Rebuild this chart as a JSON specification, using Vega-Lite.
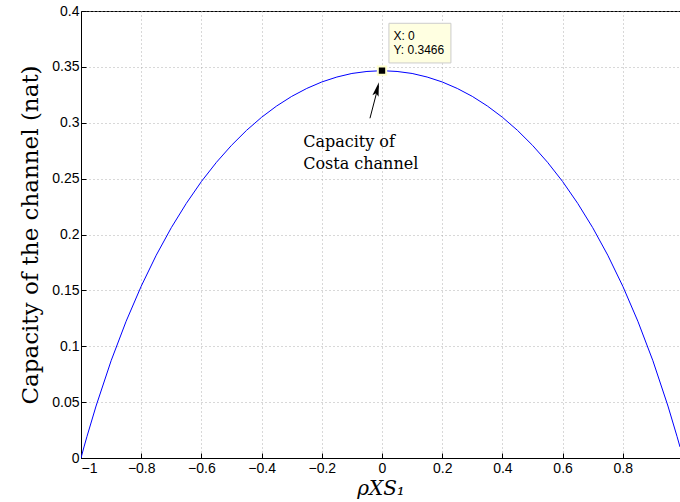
{
  "$schema": "https://vega.github.io/schema/vega-lite/v6.json",
  "width": 599,
  "height": 447,
  "autosize": {"type": "none"},
  "padding": {"left": 81, "top": 11, "right": 0, "bottom": 44},
  "background": "white",
  "config": {
    "view": {"stroke": "black", "strokeWidth": 1},
    "axis": {
      "domainColor": "black",
      "tickColor": "black",
      "tickSize": -5,
      "labelFont": "Liberation Sans",
      "labelFontSize": 14,
      "labelColor": "black",
      "gridColor": "#aaaaaa",
      "gridDash": [1, 3],
      "gridOpacity": 0.9,
      "titleColor": "black"
    }
  },
  "datasets": {
    "curve": [
      {"rho": -1, "cap": 0},
      {"rho": -0.99, "cap": 0.0099},
      {"rho": -0.98, "cap": 0.0194},
      {"rho": -0.95, "cap": 0.0465},
      {"rho": -0.9, "cap": 0.087},
      {"rho": -0.85, "cap": 0.1224},
      {"rho": -0.8, "cap": 0.1537},
      {"rho": -0.75, "cap": 0.1815},
      {"rho": -0.7, "cap": 0.2061},
      {"rho": -0.65, "cap": 0.2279},
      {"rho": -0.6, "cap": 0.2474},
      {"rho": -0.55, "cap": 0.2646},
      {"rho": -0.5, "cap": 0.2798},
      {"rho": -0.45, "cap": 0.2932},
      {"rho": -0.4, "cap": 0.3049},
      {"rho": -0.35, "cap": 0.315},
      {"rho": -0.3, "cap": 0.3236},
      {"rho": -0.25, "cap": 0.3307},
      {"rho": -0.2, "cap": 0.3365},
      {"rho": -0.15, "cap": 0.3409},
      {"rho": -0.1, "cap": 0.3441},
      {"rho": -0.05, "cap": 0.3459},
      {"rho": 0, "cap": 0.3466},
      {"rho": 0.05, "cap": 0.3459},
      {"rho": 0.1, "cap": 0.3441},
      {"rho": 0.15, "cap": 0.3409},
      {"rho": 0.2, "cap": 0.3365},
      {"rho": 0.25, "cap": 0.3307},
      {"rho": 0.3, "cap": 0.3236},
      {"rho": 0.35, "cap": 0.315},
      {"rho": 0.4, "cap": 0.3049},
      {"rho": 0.45, "cap": 0.2932},
      {"rho": 0.5, "cap": 0.2798},
      {"rho": 0.55, "cap": 0.2646},
      {"rho": 0.6, "cap": 0.2474},
      {"rho": 0.65, "cap": 0.2279},
      {"rho": 0.7, "cap": 0.2061},
      {"rho": 0.75, "cap": 0.1815},
      {"rho": 0.8, "cap": 0.1537},
      {"rho": 0.85, "cap": 0.1224},
      {"rho": 0.9, "cap": 0.087},
      {"rho": 0.95, "cap": 0.0465},
      {"rho": 0.98, "cap": 0.0194},
      {"rho": 0.99, "cap": 0.0099}
    ],
    "tipbox": [{"x1": 0.023, "x2": 0.229, "y1": 0.3535, "y2": 0.389}],
    "tiptext": [
      {"x": 0.038, "y": 0.378, "t": "X: 0"},
      {"x": 0.038, "y": 0.365, "t": "Y: 0.3466"}
    ],
    "peak": [{"x": 0, "y": 0.3466}],
    "arrow": [{"x1": -0.04, "y1": 0.304, "x2": -0.012, "y2": 0.333}],
    "head": [{"x": -0.016, "y": 0.33}],
    "note": [
      {"x": -0.262, "y": 0.283, "t": "Capacity of"},
      {"x": -0.262, "y": 0.263, "t": "Costa channel"}
    ]
  },
  "layer": [
    {
      "data": {"name": "curve"},
      "mark": {"type": "line", "color": "#0000ff", "strokeWidth": 1, "clip": true},
      "encoding": {
        "x": {
          "field": "rho", "type": "quantitative",
          "scale": {"domain": [-1, 0.99], "nice": false, "zero": false},
          "axis": {
            "values": [-1, -0.8, -0.6, -0.4, -0.2, 0, 0.2, 0.4, 0.6, 0.8],
            "format": "~g",
            "title": "ρXS₁",
            "titleFont": "DejaVu Serif",
            "titleFontStyle": "italic",
            "titleFontWeight": "normal",
            "titleFontSize": 20,
            "titlePadding": 3,
            "labelPadding": 8
          }
        },
        "y": {
          "field": "cap", "type": "quantitative",
          "scale": {"domain": [0, 0.4], "nice": false},
          "axis": {
            "values": [0, 0.05, 0.1, 0.15, 0.2, 0.25, 0.3, 0.35, 0.4],
            "format": "~g",
            "title": "Capacity of the channel (nat)",
            "titleFont": "DejaVu Serif",
            "titleFontWeight": "normal",
            "titleFontSize": 23,
            "titlePadding": 9,
            "labelPadding": 7
          }
        }
      }
    },
    {
      "data": {"name": "tipbox"},
      "mark": {"type": "rect", "fill": "#ffffe1", "stroke": "#cccccc", "strokeWidth": 1},
      "encoding": {
        "x": {"field": "x1", "type": "quantitative"},
        "x2": {"field": "x2"},
        "y": {"field": "y1", "type": "quantitative"},
        "y2": {"field": "y2"}
      }
    },
    {
      "data": {"name": "tiptext"},
      "mark": {"type": "text", "align": "left", "baseline": "middle", "font": "Liberation Sans", "fontSize": 12, "color": "black"},
      "encoding": {
        "x": {"field": "x", "type": "quantitative"},
        "y": {"field": "y", "type": "quantitative"},
        "text": {"field": "t"}
      }
    },
    {
      "data": {"name": "peak"},
      "mark": {"type": "square", "filled": true, "color": "black", "size": 70, "stroke": "#ffffcc", "strokeWidth": 2, "opacity": 1},
      "encoding": {
        "x": {"field": "x", "type": "quantitative"},
        "y": {"field": "y", "type": "quantitative"}
      }
    },
    {
      "data": {"name": "arrow"},
      "mark": {"type": "rule", "color": "black", "strokeWidth": 1},
      "encoding": {
        "x": {"field": "x1", "type": "quantitative"},
        "y": {"field": "y1", "type": "quantitative"},
        "x2": {"field": "x2"},
        "y2": {"field": "y2"}
      }
    },
    {
      "data": {"name": "head"},
      "mark": {"type": "point", "shape": "M0,-1L0.45,1L0,0.6L-0.45,1Z", "filled": true, "color": "black", "size": 200, "angle": 14, "opacity": 1},
      "encoding": {
        "x": {"field": "x", "type": "quantitative"},
        "y": {"field": "y", "type": "quantitative"}
      }
    },
    {
      "data": {"name": "note"},
      "mark": {"type": "text", "align": "left", "baseline": "middle", "font": "DejaVu Serif", "fontSize": 16, "color": "black"},
      "encoding": {
        "x": {"field": "x", "type": "quantitative"},
        "y": {"field": "y", "type": "quantitative"},
        "text": {"field": "t"}
      }
    }
  ]
}
